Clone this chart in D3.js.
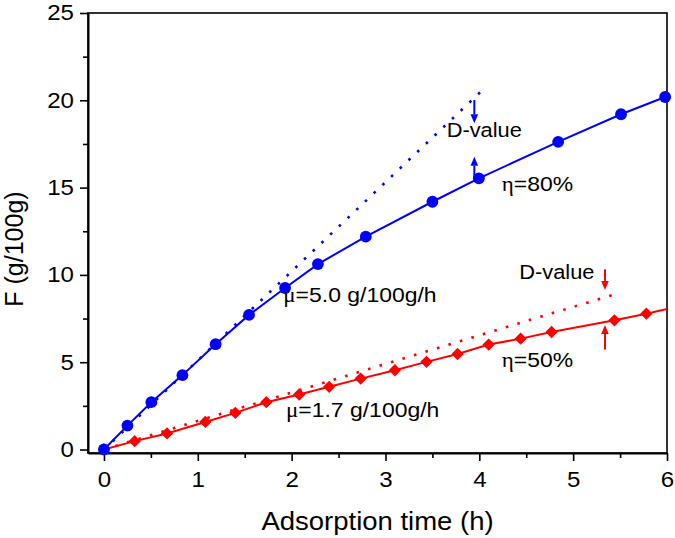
<!DOCTYPE html>
<html>
<head>
<meta charset="utf-8">
<script src="https://cdn.jsdelivr.net/npm/d3@7"></script>
<style>
  html, body { margin: 0; padding: 0; background: #fff; }
  svg { display: block; }
  text { font-family: "Liberation Sans", Arial, sans-serif; fill: #000; }
</style>
</head>
<body>
<div id="chart"></div>
<script>
// ---------- data ----------
const blueX = [0, 0.25, 0.505, 0.836, 1.19, 1.546, 1.93, 2.28, 2.79, 3.50, 3.995, 4.84, 5.51, 5.98];
const blueY = [0, 1.37, 2.71, 4.26, 6.03, 7.71, 9.25, 10.62, 12.19, 14.19, 15.53, 17.62, 19.20, 20.19];
const redX  = [0, 0.327, 0.672, 1.08, 1.40, 1.73, 2.08, 2.40, 2.736, 3.10, 3.437, 3.768, 4.10, 4.44, 4.77, 5.44, 5.78];
const redY  = [0, 0.48, 0.92, 1.58, 2.10, 2.71, 3.15, 3.59, 4.06, 4.54, 5.02, 5.47, 6.01, 6.35, 6.73, 7.40, 7.78];
const redLineEnd = [6, 8.05];            // solid red curve continues to the frame
const blueTangent = [[0, 0], [4.015, 20.49]];  // dotted initial-rate line, mu = 5.0
const redTangent  = [[0, 0], [5.428, 8.87]];   // dotted initial-rate line, mu = 1.7
const xTicks = [0, 1, 2, 3, 4, 5, 6];
const xMinorTicks = [0.5, 1.5, 2.5, 3.5, 4.5, 5.5];
const yTicks = [0, 5, 10, 15, 20, 25];
const yMinorTicks = [2.5, 7.5, 12.5, 17.5, 22.5];
const xTitle = "Adsorption time (h)";
const yTitle = "F (g/100g)";
// arrows (data units): x, from y, to y (tip)
const arrows = [
  { x: 3.947, y0: 20.02, y1: 18.68, c: "blue" },
  { x: 3.947, y0: 15.55, y1: 16.77, c: "blue" },
  { x: 5.339, y0: 10.32, y1: 9.14,  c: "red" },
  { x: 5.339, y0: 5.72,  y1: 7.13,  c: "red" }
];
// annotation anchors (data units, left/baseline)
const annotations = [
  { parts: [["D-value", 0]], x: 3.652, y: 17.88, size: 19.5 },
  { parts: [["η", 1], ["=80%", 0]], x: 4.239, y: 14.82, size: 20.5 },
  { parts: [["μ", 1], ["=5.0 g/100g/h", 0]], x: 1.911, y: 8.47, size: 20.5 },
  { parts: [["D-value", 0]], x: 4.426, y: 9.75, size: 19.5 },
  { parts: [["η", 1], ["=50%", 0]], x: 4.239, y: 4.72, size: 20.5 },
  { parts: [["μ", 1], ["=1.7 g/100g/h", 0]], x: 1.940, y: 1.86, size: 20.5 }
];

// ---------- layout ----------
const W = 675, H = 538;
const BLUE = "#0000ff", RED = "#ff0000";
const SX = 1.12; // horizontal stretch of the reference typography

const svg = d3.select("#chart").append("svg").attr("width", W).attr("height", H);
const x = d3.scaleLinear().domain([-0.17, 6]).range([88, 667]);
const y = d3.scaleLinear().domain([-0.2, 25]).range([453, 13]);
const [x0, x1] = x.range();
const [yb, yt] = y.range();

function stretch(sel, sx) {
  sel.each(function () {
    const t = d3.select(this);
    const tx = +t.attr("x") || 0, ty = +t.attr("y") || 0;
    t.attr("x", 0).attr("y", 0).attr("transform", `translate(${tx},${ty}) scale(${sx},1)`);
  });
}

svg.append("defs").append("clipPath").attr("id", "plot")
  .append("rect").attr("x", x0).attr("y", yt).attr("width", x1 - x0).attr("height", yb - yt);

// ---------- axes ----------
const gx = svg.append("g").attr("transform", `translate(0,${yb})`)
  .call(d3.axisBottom(x).tickValues(xTicks).tickSize(8).tickPadding(11).tickSizeOuter(0).tickFormat(d3.format("d")));
const gxm = svg.append("g").attr("transform", `translate(0,${yb})`)
  .call(d3.axisBottom(x).tickValues(xMinorTicks).tickSize(5).tickSizeOuter(0).tickFormat(""));
const gy = svg.append("g").attr("transform", `translate(${x0},0)`)
  .call(d3.axisLeft(y).tickValues(yTicks).tickSize(8).tickPadding(6).tickSizeOuter(0).tickFormat(d3.format("d")));
const gym = svg.append("g").attr("transform", `translate(${x0},0)`)
  .call(d3.axisLeft(y).tickValues(yMinorTicks).tickSize(5).tickSizeOuter(0).tickFormat(""));
gxm.select(".domain").remove();
gym.select(".domain").remove();
[gx, gy].forEach(g => {
  g.select(".domain").attr("stroke", "#000").attr("stroke-width", 2);
  g.selectAll(".tick text").attr("font-size", 21.5).attr("font-family", "Liberation Sans, Arial, sans-serif").attr("fill", "#000");
  stretch(g.selectAll(".tick text"), SX);
});
[gx, gxm, gy, gym].forEach(g => g.selectAll(".tick line").attr("stroke", "#000").attr("stroke-width", 1.6));

// frame
svg.append("rect").attr("x", x0).attr("y", yt).attr("width", x1 - x0).attr("height", yb - yt)
  .attr("fill", "none").attr("stroke", "#000").attr("stroke-width", 1.6);

// titles
svg.append("text").text(xTitle).attr("text-anchor", "middle").attr("font-size", 25)
  .attr("transform", `translate(${(x0 + x1) / 2},530) scale(1.1,1)`);
svg.append("text").text(yTitle).attr("text-anchor", "middle").attr("font-size", 25)
  .attr("transform", `translate(23,249) rotate(-90)`);

// ---------- series ----------
const plot = svg.append("g").attr("clip-path", "url(#plot)");
const line = d3.line().x(d => x(d[0])).y(d => y(d[1]));

const redPts = d3.zip(redX, redY);
const bluePts = d3.zip(blueX, blueY);

// dotted tangents
plot.append("path").attr("d", line(redTangent)).attr("fill", "none").attr("stroke", RED)
  .attr("stroke-width", 2.6).attr("stroke-dasharray", "2.6 9.4");
plot.append("path").attr("d", line(blueTangent)).attr("fill", "none").attr("stroke", BLUE)
  .attr("stroke-width", 2.6).attr("stroke-dasharray", "2.6 9.4");

// red series
plot.append("path").attr("d", line(redPts.concat([redLineEnd]))).attr("fill", "none")
  .attr("stroke", RED).attr("stroke-width", 2);
plot.selectAll("path.dia").data(redPts).join("path").attr("class", "dia")
  .attr("d", d3.symbol(d3.symbolSquare, 76)())
  .attr("transform", d => `translate(${x(d[0])},${y(d[1])}) rotate(45)`)
  .attr("fill", RED);

// blue series
plot.append("path").attr("d", line(bluePts)).attr("fill", "none")
  .attr("stroke", BLUE).attr("stroke-width", 2);
svg.selectAll("circle.dot").data(bluePts).join("circle").attr("class", "dot")
  .attr("cx", d => x(d[0])).attr("cy", d => y(d[1])).attr("r", 5.9).attr("fill", BLUE);

// ---------- arrows ----------
arrows.forEach(a => {
  const col = a.c === "blue" ? BLUE : RED;
  const px = x(a.x), p0 = y(a.y0), p1 = y(a.y1);
  const dir = Math.sign(p1 - p0);
  const hl = 9, hw = 3.8;
  svg.append("line").attr("x1", px).attr("x2", px).attr("y1", p0).attr("y2", p1 - dir * hl)
    .attr("stroke", col).attr("stroke-width", 2);
  svg.append("path")
    .attr("d", `M${px},${p1}L${px - hw},${p1 - dir * hl}L${px + hw},${p1 - dir * hl}Z`)
    .attr("fill", col);
});

// ---------- annotations ----------
annotations.forEach(a => {
  const t = svg.append("text").attr("font-size", a.size)
    .attr("transform", `translate(${x(a.x)},${y(a.y)}) scale(${SX},1)`);
  a.parts.forEach(([s, greek]) => {
    const ts = t.append("tspan").text(s);
    if (greek) ts.attr("font-family", "Liberation Serif, Times New Roman, serif");
  });
});
</script>
</body>
</html>
